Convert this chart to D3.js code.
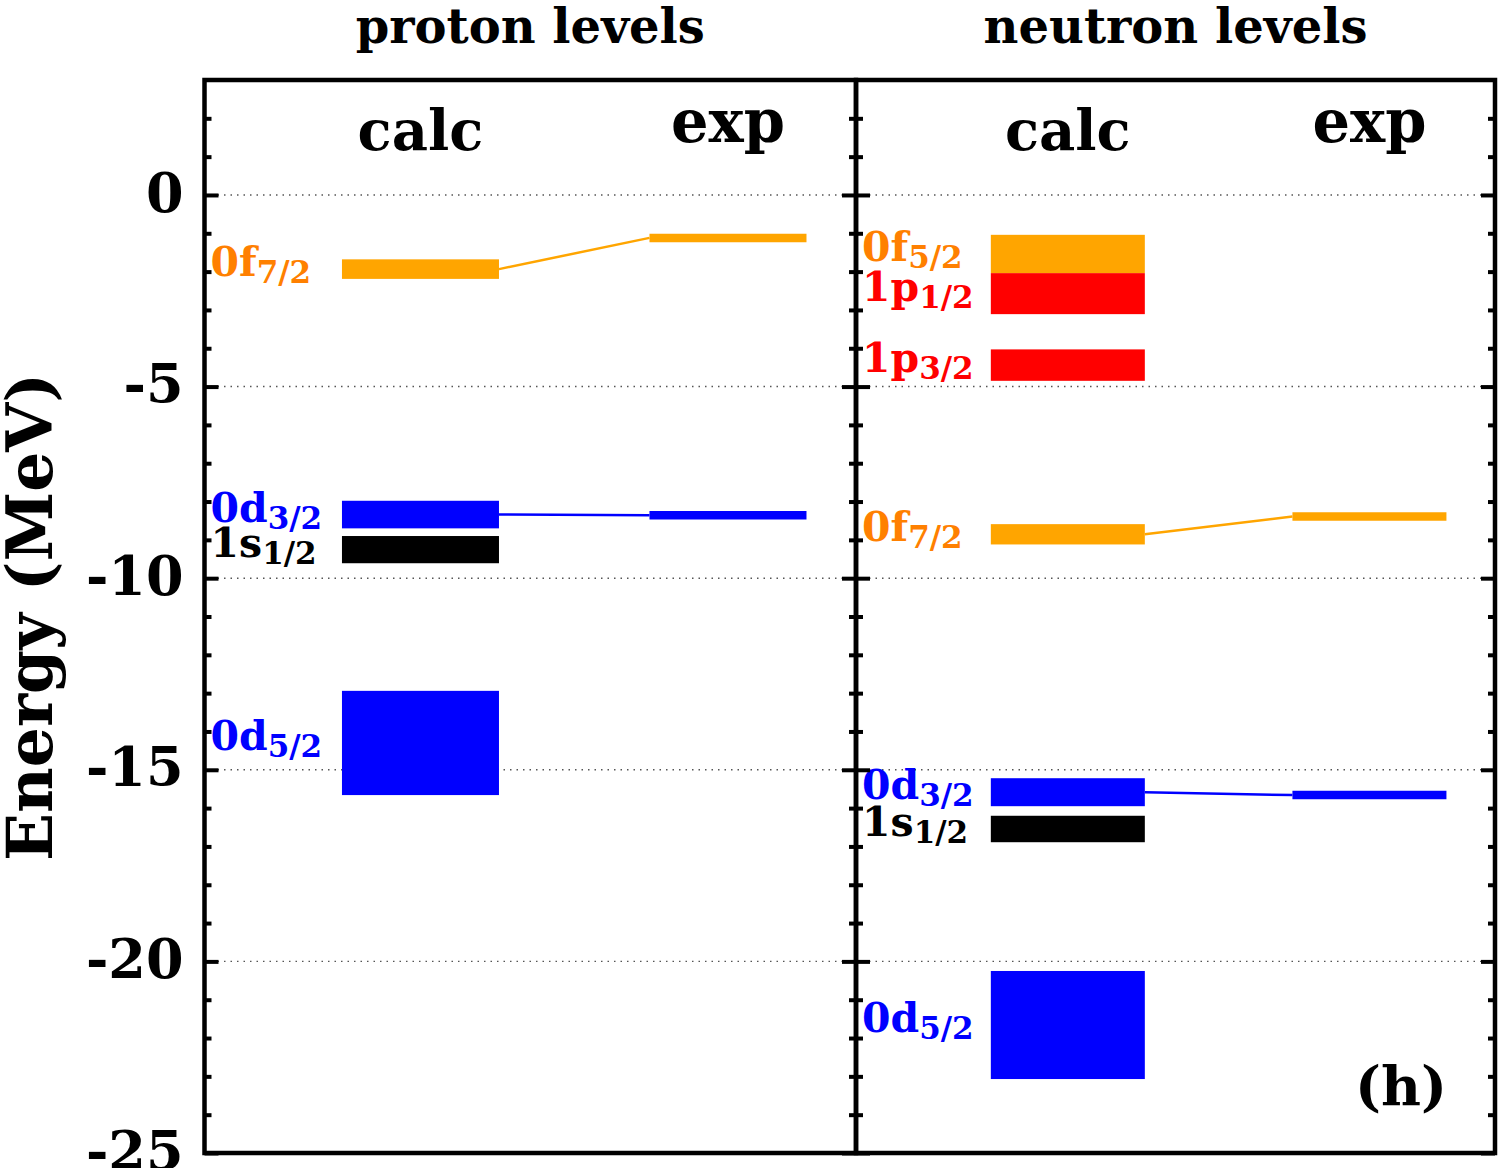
<!DOCTYPE html>
<html>
<head>
<meta charset="utf-8">
<script src="https://cdn.jsdelivr.net/npm/d3@7"></script>
<style>
  body { margin: 0; background: #fff; }
  text { font-family: "DejaVu Serif", serif; font-weight: bold; }
</style>
</head>
<body>
<div id="chart"></div>
<script>
// proton levels (MeV): calc bands given by top / bottom energy
const protonOrbit = ['0f', '0d', '1s', '0d'];
const protonJ = ['7/2', '3/2', '1/2', '5/2'];
const protonCalcTop = [-1.68, -7.98, -8.90, -12.94];
const protonCalcBottom = [-2.19, -8.70, -9.61, -15.66];
const protonExpLevel = ['0f7/2', '0d3/2'];
const protonExpE = [-1.12, -8.36];

// neutron levels (MeV)
const neutronOrbit = ['0f', '1p', '1p', '0f', '0d', '1s', '0d'];
const neutronJ = ['5/2', '1/2', '3/2', '7/2', '3/2', '1/2', '5/2'];
const neutronCalcTop = [-1.04, -2.04, -4.03, -8.59, -15.22, -16.20, -20.25];
const neutronCalcBottom = [-2.04, -3.11, -4.85, -9.12, -15.95, -16.89, -23.07];
const neutronExpLevel = ['0f7/2', '0d3/2'];
const neutronExpE = [-8.39, -15.66];

const yTicks = [0, -5, -10, -15, -20, -25];
const panelTitles = ['proton levels', 'neutron levels'];
const columnNames = ['calc', 'exp'];

// colours by orbital letter
const barColor = { f: '#ffa500', p: '#ff0000', d: '#0000ff', s: '#000000' };
const labelColor = { f: '#ff8000', p: '#ff0000', d: '#0000ff', s: '#000000' };

const width = 1503, height = 1168;
const calcX = [0.211, 0.452];
const expX = [0.683, 0.924];

const svg = d3.select('#chart')
    .append('svg')
    .attr('width', width)
    .attr('height', height);

const y = d3.scaleLinear().domain([-25, 3]).range([1153, 80]);

const panels = [
    { title: panelTitles[0], orbit: protonOrbit, j: protonJ, top: protonCalcTop, bottom: protonCalcBottom,
      expLevel: protonExpLevel, expE: protonExpE, x0: 204.5, x1: 856 },
    { title: panelTitles[1], orbit: neutronOrbit, j: neutronJ, top: neutronCalcTop, bottom: neutronCalcBottom,
      expLevel: neutronExpLevel, expE: neutronExpE, x0: 856, x1: 1495 }
];

const minorTicks = d3.range(-24, 3).filter(v => v % 5 !== 0);

function sideTicks(xpos, inwardRight, values, size) {
    const ax = (inwardRight ? d3.axisRight(y) : d3.axisLeft(y))
        .tickValues(values).tickSize(size).tickFormat('');
    const a = svg.append('g').attr('transform', 'translate(' + xpos + ',0)').call(ax);
    a.select('.domain').remove();
    a.selectAll('line').attr('stroke', '#000').attr('stroke-width', 4);
}

panels.forEach(function (p) {
    const x = d3.scaleLinear().domain([0, 1]).range([p.x0, p.x1]);
    const g = svg.append('g');

    // dotted grid at major ticks
    g.selectAll('.grid')
        .data(yTicks.filter(v => v > -25))
        .enter().append('line')
        .attr('class', 'grid')
        .attr('x1', p.x0).attr('x2', p.x1)
        .attr('y1', d => y(d)).attr('y2', d => y(d))
        .attr('stroke', '#555').attr('stroke-width', 1.4)
        .attr('stroke-dasharray', '1.5,5');

    const levels = p.orbit.map((o, k) => ({
        name: o + p.j[k], orbit: o, j: p.j[k], l: o[1],
        top: p.top[k], bottom: p.bottom[k], mid: (p.top[k] + p.bottom[k]) / 2
    }));

    // calculated bands
    g.selectAll('.calc')
        .data(levels)
        .enter().append('rect')
        .attr('class', 'calc')
        .attr('x', x(calcX[0]))
        .attr('width', x(calcX[1]) - x(calcX[0]))
        .attr('y', d => y(d.top))
        .attr('height', d => y(d.bottom) - y(d.top))
        .attr('fill', d => barColor[d.l]);

    // experimental levels and connectors
    const exp = p.expLevel.map((n, k) => {
        const c = levels.find(d => d.name === n);
        return { name: n, e: p.expE[k], calc: c.mid, l: n[1] };
    });

    g.selectAll('.conn')
        .data(exp)
        .enter().append('line')
        .attr('x1', x(calcX[1])).attr('y1', d => y(d.calc))
        .attr('x2', x(expX[0])).attr('y2', d => y(d.e))
        .attr('stroke', d => barColor[d.l]).attr('stroke-width', 2.5);

    g.selectAll('.exp')
        .data(exp)
        .enter().append('line')
        .attr('x1', x(expX[0])).attr('x2', x(expX[1]))
        .attr('y1', d => y(d.e)).attr('y2', d => y(d.e))
        .attr('stroke', d => barColor[d.l]).attr('stroke-width', 8.5);

    // level labels
    const lab = g.selectAll('.lab')
        .data(levels)
        .enter().append('text')
        .attr('x', p.x0 + 6)
        .attr('y', d => y(d.mid) + 7)
        .attr('fill', d => labelColor[d.l]);
    lab.append('tspan').attr('font-size', 41).text(d => d.orbit);
    lab.append('tspan').attr('font-size', 31).attr('dy', 7).text(d => d.j);

    // column names
    g.append('text').attr('x', x((calcX[0] + calcX[1]) / 2)).attr('y', 150)
        .attr('text-anchor', 'middle').attr('font-size', 56).text(columnNames[0]);
    g.append('text').attr('x', x((expX[0] + expX[1]) / 2)).attr('y', 142)
        .attr('text-anchor', 'middle').attr('font-size', 59).text(columnNames[1]);

    // panel title
    svg.append('text').attr('x', x(0.5)).attr('y', 43)
        .attr('text-anchor', 'middle').attr('font-size', 48).text(p.title);

    // ticks on both sides, pointing inward
    sideTicks(p.x0, true, yTicks, 14);
    sideTicks(p.x0, true, minorTicks, 7);
    sideTicks(p.x1, false, yTicks, 14);
    sideTicks(p.x1, false, minorTicks, 7);

    // frame
    svg.append('rect')
        .attr('x', p.x0).attr('y', y(3))
        .attr('width', p.x1 - p.x0).attr('height', y(-25) - y(3))
        .attr('fill', 'none').attr('stroke', '#000').attr('stroke-width', 4.5);
});

// y tick labels
const yAxis = svg.append('g')
    .attr('transform', 'translate(' + panels[0].x0 + ',0)')
    .call(d3.axisLeft(y).tickValues(yTicks).tickSize(0).tickPadding(21).tickFormat(d => String(d)));
yAxis.select('.domain').remove();
yAxis.selectAll('text')
    .attr('font-size', 54)
    .attr('dy', '0.3em')
    .attr('font-family', '"DejaVu Serif", serif')
    .attr('font-weight', 'bold')
    .attr('fill', '#000');

// y axis title
svg.append('text')
    .attr('transform', 'translate(52,617) rotate(-90)')
    .attr('text-anchor', 'middle')
    .attr('font-size', 63)
    .text('Energy (MeV)');

// panel tag
svg.append('text')
    .attr('x', 1447).attr('y', 1105)
    .attr('text-anchor', 'end')
    .attr('font-size', 55)
    .text('(h)');
</script>
</body>
</html>
